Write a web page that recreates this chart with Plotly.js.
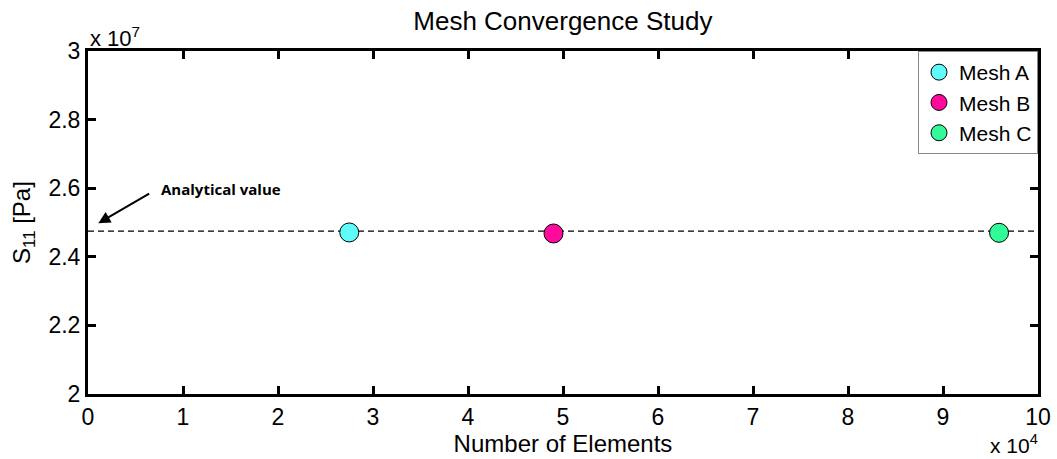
<!DOCTYPE html>
<html>
<head>
<meta charset="utf-8">
<script src="https://cdn.plot.ly/plotly-3.0.1.min.js"></script>
<style>html,body{margin:0;padding:0;background:#fff;}#chart{width:1057px;height:459px;}</style>
</head>
<body>
<div id="chart"></div>
<script>
// Data
const meshNames = ["Mesh A", "Mesh B", "Mesh C"];
const meshElements = [27500, 49000, 95900];
const meshS11 = [2.471e7, 2.468e7, 2.470e7];
const meshColors = ["#5ffcfc", "#ff0a9c", "#33fa98"];
const analyticalX = [0, 100000];
const analyticalS11 = [2.475e7, 2.475e7];
const xTickVals = [0, 10000, 20000, 30000, 40000, 50000, 60000, 70000, 80000, 90000, 100000];
const xTickText = ["0", "1", "2", "3", "4", "5", "6", "7", "8", "9", "10"];
const yTickVals = [2.0e7, 2.2e7, 2.4e7, 2.6e7, 2.8e7, 3.0e7];
const yTickText = ["2", "2.2", "2.4", "2.6", "2.8", "3"];

const font = "Liberation Sans, Arial, sans-serif";
const fs = 23;

const traces = [{
  x: analyticalX, y: analyticalS11, mode: "lines", showlegend: false, hoverinfo: "skip",
  line: {color: "#000", width: 1.3, dash: "6px,4px"}
}];
for (let i = 0; i < meshNames.length; i++) {
  traces.push({
    x: [meshElements[i]], y: [meshS11[i]], mode: "markers", name: meshNames[i],
    marker: {size: 19, color: meshColors[i], line: {color: "#000", width: 1}}
  });
}

const axisCommon = {
  showgrid: false, zeroline: false, showline: true, linecolor: "#000", linewidth: 3,
  mirror: "ticks", ticks: "inside", ticklen: 8, tickwidth: 3, tickcolor: "#000",
  tickfont: {family: font, size: fs, color: "#000"}, tickmode: "array"
};

const layout = {
  width: 1057, height: 459,
  margin: {l: 88, r: 19, t: 51, b: 65},
  paper_bgcolor: "#fff", plot_bgcolor: "#fff",
  font: {family: font, color: "#000"},
  title: {text: "Mesh Convergence Study", font: {family: font, size: 26, color: "#000"},
          x: 0.5325, xanchor: "center", y: 0.955, yanchor: "middle"},
  xaxis: Object.assign({}, axisCommon, {
    range: [0, 100000], tickvals: xTickVals, ticktext: xTickText,
    title: {text: "Number of Elements", font: {family: font, size: 24, color: "#000"}, standoff: 0}
  }),
  yaxis: Object.assign({}, axisCommon, {
    range: [2.0e7, 3.0e7], tickvals: yTickVals, ticktext: yTickText,
    title: {text: "S<sub>11</sub> [Pa]", font: {family: font, size: 24, color: "#000"}, standoff: 12}
  }),
  legend: {
    x: 1, xanchor: "right", y: 1, yanchor: "top",
    bgcolor: "#fff", bordercolor: "#888", borderwidth: 1,
    font: {family: font, size: 21, color: "#000"},
    itemwidth: 30, tracegroupgap: 0
  },
  showlegend: true,
  annotations: [
    {
      x: 1084, y: 2.4977e7, xref: "x", yref: "y",
      ax: 6600, ay: 2.587e7, axref: "x", ayref: "y",
      text: "", showarrow: true, arrowhead: 2, arrowsize: 1.2, arrowwidth: 2, arrowcolor: "#000"
    },
    {
      x: 0, y: 0, xref: "paper", yref: "paper", text: "<b>Analytical value</b>",
      showarrow: false, xanchor: "left", yanchor: "middle",
      font: {family: "Open Sans, Liberation Sans, sans-serif", size: 15, color: "#000"}
    },
    {
      x: 0, y: 1, xref: "paper", yref: "paper", text: "x 10<sup>7</sup>",
      showarrow: false, xanchor: "left", yanchor: "bottom", yshift: -2,
      font: {family: font, size: 22, color: "#000"}
    },
    {
      x: 1, y: 0, xref: "paper", yref: "paper", text: "x 10<sup>4</sup>",
      showarrow: false, xanchor: "right", yanchor: "top", yshift: -35, xshift: 2,
      font: {family: font, size: 21, color: "#000"}
    }
  ]
};
// place the "Analytical value" label by pixel position in the plot area
const pw = 1057 - 88 - 19, ph = 459 - 51 - 65;
layout.annotations[1].x = (159 - 88) / pw;
layout.annotations[1].y = (394 - 189) / ph;

Plotly.newPlot("chart", traces, layout, {displayModeBar: false, staticPlot: true});
</script>
</body>
</html>
